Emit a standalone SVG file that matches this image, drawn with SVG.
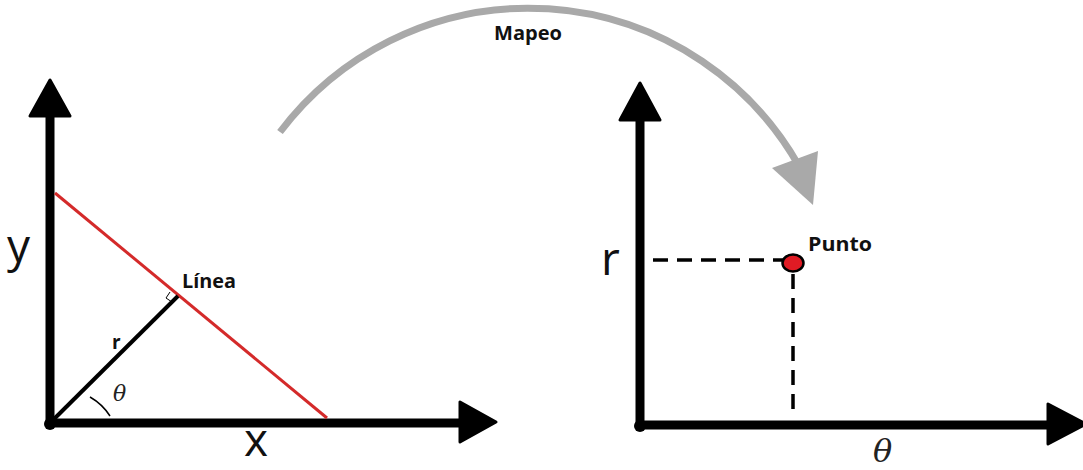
<svg xmlns="http://www.w3.org/2000/svg" width="1083" height="470" viewBox="0 0 1083 470">
<style>
.axis{stroke:#000;stroke-width:9;fill:none;stroke-linecap:butt}
.head{fill:#000;stroke:#000;stroke-width:3;stroke-linejoin:round}
.lbl{font-family:"Open Sans","Liberation Sans",sans-serif;font-weight:bold;font-size:19px;fill:#111}
.big{font-family:"Open Sans","Liberation Sans",sans-serif;font-size:46px;fill:#111}
.greek{font-family:"DejaVu Serif","Liberation Serif",serif;font-style:italic;fill:#222}
.dash{stroke:#000;stroke-width:3.5;stroke-dasharray:15 9;fill:none}
</style>
<rect width="1083" height="470" fill="#fff"/>
<g id="left-axes">
<line class="axis" x1="50" y1="423" x2="50" y2="112"/>
<polygon class="head" points="50,80 30,116 70,116"/>
<line class="axis" x1="46" y1="423" x2="462" y2="423"/>
<polygon class="head" points="496,422 460,402 460,442"/>
<circle cx="50" cy="424" r="6" fill="#000"/>
<text class="big" x="7" y="262">y</text>
<text class="big" x="244" y="456">x</text>
</g>
<g id="linea">
<line x1="55" y1="193" x2="327" y2="418" stroke="#d42a2a" stroke-width="3"/>
<text class="lbl" x="182" y="288" textLength="54" lengthAdjust="spacingAndGlyphs">Línea</text>
</g>
<g id="radius">
<line x1="50" y1="423" x2="178" y2="296" stroke="#000" stroke-width="4"/>
<path d="M170,292 L166,298 L172,302" fill="none" stroke="#000" stroke-width="1"/>
<text class="lbl" x="112" y="349">r</text>
<path d="M90,397 A58,58 0 0 1 110,416" fill="none" stroke="#000" stroke-width="1.5"/>
<text class="greek" x="113" y="401" font-size="22">θ</text>
</g>
<g id="right-axes">
<line class="axis" x1="640" y1="425" x2="640" y2="118"/>
<polygon class="head" points="640,83 620,120 660,120"/>
<line class="axis" x1="636" y1="425" x2="1050" y2="425"/>
<polygon class="head" points="1086,424 1048,404 1048,444"/>
<circle cx="640" cy="426" r="6" fill="#000"/>
<text class="big" x="601" y="275">r</text>
<text class="greek" x="873" y="462" font-size="32">θ</text>
</g>
<g id="connectors">
<line class="dash" x1="653" y1="260" x2="785" y2="260"/>
<line class="dash" x1="793" y1="274" x2="793" y2="414"/>
<path d="M280,132 A311,311 0 0 1 799,166" fill="none" stroke="#a9a9a9" stroke-width="7"/>
<polygon points="772,168 818,151 813,205" fill="#a9a9a9"/>
<text class="lbl" x="494" y="40" textLength="68" lengthAdjust="spacingAndGlyphs">Mapeo</text>
</g>
<g id="punto">
<ellipse cx="793" cy="263" rx="10.5" ry="8.5" fill="#e01b24" stroke="#000" stroke-width="2.5"/>
<text class="lbl" x="808" y="251" textLength="64" lengthAdjust="spacingAndGlyphs">Punto</text>
</g>
</svg>
